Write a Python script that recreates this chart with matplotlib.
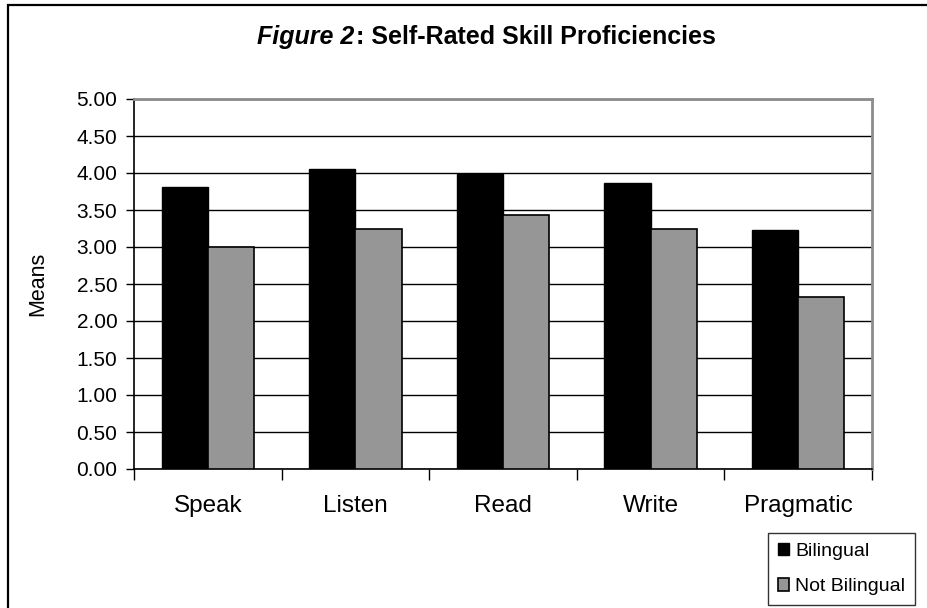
import matplotlib
matplotlib.use("Agg")
import matplotlib.pyplot as plt
from matplotlib.patches import Rectangle
import numpy as np

categories = ["Speak", "Listen", "Read", "Write", "Pragmatic"]
bilingual = [3.81, 4.05, 3.98, 3.87, 3.23]
not_bilingual = [3.00, 3.24, 3.43, 3.24, 2.33]
y_ticks = [0.0, 0.5, 1.0, 1.5, 2.0, 2.5, 3.0, 3.5, 4.0, 4.5, 5.0]

plt.rcParams['font.family'] = ['Liberation Sans', 'DejaVu Sans']

W, H = 928, 608
fig = plt.figure(figsize=(W / 100, H / 100), dpi=100)

# chart-area border (extends past right/bottom edges)
fig.patches.append(Rectangle((8 / W, -0.2), 1.5, 1 - 5 / H + 0.2, transform=fig.transFigure,
                             fill=False, edgecolor='black', linewidth=1.6, clip_on=False))

L, R, T, B = 134, 872, 99, 469
ax = fig.add_axes([L / W, 1 - B / H, (R - L) / W, (B - T) / H])

x = np.arange(len(categories))
w = 0.3125
ax.bar(x - w / 2, bilingual, w, color='black', edgecolor='black', linewidth=1, label='Bilingual', zorder=3)
ax.bar(x + w / 2, not_bilingual, w, color='#969696', edgecolor='black', linewidth=1.2, label='Not Bilingual', zorder=3)

ax.set_xlim(-0.5, len(categories) - 0.5)
ax.set_ylim(0, 5)
ax.set_yticks(y_ticks)
ax.set_yticklabels([f"{v:.2f}" for v in y_ticks], fontsize=15)
ax.yaxis.grid(True, color='black', linewidth=1)
ax.set_axisbelow(True)
ax.tick_params(axis='y', direction='out', length=6, width=1, pad=6)

ax.set_xticks(x)
ax.set_xticklabels(categories, fontsize=17.5)
ax.tick_params(axis='x', which='major', length=0, pad=19)
ax.set_xticks(np.arange(-0.5, len(categories), 1.0), minor=True)
ax.tick_params(axis='x', which='minor', direction='out', length=8, width=1)

ax.set_ylabel("Means", fontsize=15.5, labelpad=20)

for s in ['left', 'bottom']:
    ax.spines[s].set_color('black')
    ax.spines[s].set_linewidth(1.2)
for s in ['top', 'right']:
    ax.spines[s].set_color('#8c8c8c')
    ax.spines[s].set_linewidth(2)

leg = fig.legend(loc='upper left', bbox_to_anchor=(768 / W, 1 - 533 / H), borderaxespad=0,
                 fontsize=14, frameon=True, fancybox=False, handlelength=0.6, handleheight=0.6,
                 handletextpad=0.3, labelspacing=0.95, borderpad=0.5)
leg.get_frame().set_edgecolor('black')
leg.get_frame().set_linewidth(1)

# Title: "Figure 2" italic bold, rest bold, centred as one line
fig.canvas.draw()
renderer = fig.canvas.get_renderer()
ty = 1 - 44 / H
t1 = fig.text(0, ty, "Figure 2", fontsize=18, fontweight='bold', fontstyle='italic', va='baseline')
t2 = fig.text(0, ty, ": Self-Rated Skill Proficiencies", fontsize=18, fontweight='bold', va='baseline')
w1 = t1.get_window_extent(renderer).width
w2 = t2.get_window_extent(renderer).width
cx = 486
start = cx - (w1 + w2) / 2
t1.set_x(start / W)
t2.set_x((start + w1 + 1) / W)

fig.savefig("out.png", dpi=100)
